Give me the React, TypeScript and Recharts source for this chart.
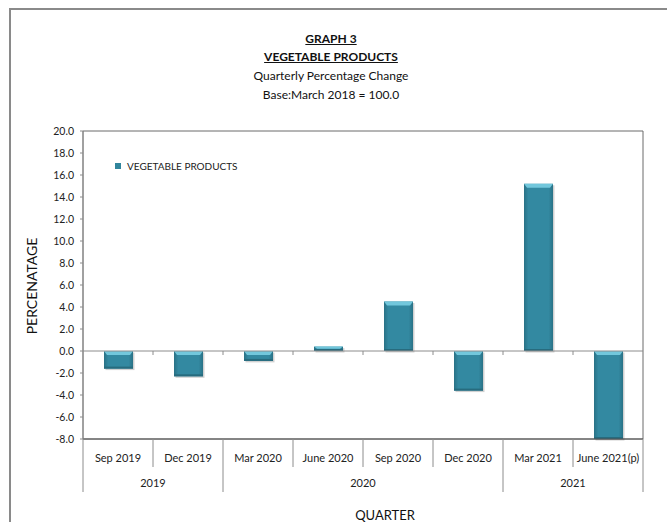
import React from "react";
import {
  BarChart,
  Bar,
  XAxis,
  YAxis,
  ReferenceLine,
  ReferenceArea,
  Legend,
} from "recharts";

// quarter labels, year groups and the quarterly % change
const quarters = [
  "Sep 2019",
  "Dec 2019",
  "Mar 2020",
  "June 2020",
  "Sep 2020",
  "Dec 2020",
  "Mar 2021",
  "June 2021(p)",
];
const years = ["2019", "2019", "2020", "2020", "2020", "2020", "2021", "2021"];
const changes = [-1.6, -2.3, -0.9, 0.4, 4.5, -3.6, 15.2, -8.0];
const yTicks = [20, 18, 16, 14, 12, 10, 8, 6, 4, 2, 0, -2, -4, -6, -8];

const data = quarters.map((q, i) => ({
  quarter: q,
  year: years[i],
  value: changes[i],
}));

const W = 667;
const H = 522;
const margin = { top: 131, right: 24, left: 43, bottom: 23 };
const Y_AXIS_W = 40;
const X_AXIS_H = 60;
const PLOT_W = W - margin.left - margin.right - Y_AXIS_W;
const PLOT_H = H - margin.top - margin.bottom - X_AXIS_H;
const Y_MIN = -8;
const Y_MAX = 20;
const FONT = "Lato, 'Open Sans', sans-serif";
const LINE = "#8c8c8c";

const QuarterTick = (props: any) => {
  const { x, y, index, payload } = props;
  const step = PLOT_W / data.length;
  const left = x - step / 2;
  const year = years[index];
  const groupStart = index === 0 || years[index - 1] !== year;
  const isLast = index === data.length - 1;
  const zeroY = y - (PLOT_H * (0 - Y_MIN)) / (Y_MAX - Y_MIN);

  let count = 0;
  if (groupStart) {
    let j = index;
    while (j < years.length && years[j] === year) {
      count++;
      j++;
    }
  }

  return (
    <g>
      <line
        x1={left}
        x2={left}
        y1={y}
        y2={groupStart ? y + 53 : y + 28}
        stroke={LINE}
      />
      {isLast && (
        <line x1={left + step} x2={left + step} y1={y} y2={y + 53} stroke={LINE} />
      )}
      {index > 0 && (
        <line x1={left} x2={left} y1={zeroY} y2={zeroY + 4} stroke={LINE} />
      )}
      <text
        x={x}
        y={y + 23}
        textAnchor="middle"
        fontSize={11}
        fontFamily={FONT}
        fill="#222"
      >
        {payload.value}
      </text>
      {groupStart && (
        <text
          x={left + (count * step) / 2}
          y={y + 48}
          textAnchor="middle"
          fontSize={11}
          fontFamily={FONT}
          fill="#222"
        >
          {year}
        </text>
      )}
    </g>
  );
};

const BevelBar = (props: any) => {
  const { x, y, width, height } = props;
  const top = Math.min(y, y + height);
  const h = Math.abs(height);
  if (!h) return null;
  const cap = Math.min(4, h / 2);
  return (
    <g>
      <rect x={x + 1.5} y={top + 1.5} width={width} height={h} fill="#000" opacity={0.18} />
      <rect x={x} y={top} width={width} height={h} fill="url(#barGrad)" />
      <polygon
        points={`${x},${top} ${x + width},${top} ${x + width - 3},${top + cap} ${x + 3},${top + cap}`}
        fill="#72c7dc"
      />
      <rect x={x} y={top + h - 2} width={width} height={2} fill="#276b7e" />
    </g>
  );
};

const LegendBox = () => (
  <div
    style={{
      display: "flex",
      alignItems: "center",
      fontFamily: FONT,
      fontSize: 10,
      color: "#222",
      whiteSpace: "nowrap",
    }}
  >
    <span
      style={{
        width: 6,
        height: 6,
        background: "#31859c",
        marginRight: 6,
        display: "inline-block",
      }}
    />
    VEGETABLE PRODUCTS
  </div>
);

export default function App() {
  const titleStyle: React.CSSProperties = {
    position: "absolute",
    left: 0,
    width: 662,
    textAlign: "center",
    fontFamily: FONT,
    fontSize: 12,
    color: "#111",
    lineHeight: "14px",
  };

  return (
    <div
      style={{
        position: "fixed",
        left: 0,
        top: 0,
        width: W,
        height: H,
        background: "#fff",
        overflow: "hidden",
      }}
    >
      {/* sheet border, only top and left are visible */}
      <div
        style={{
          position: "absolute",
          left: 9,
          top: 8,
          width: 700,
          height: 600,
          borderTop: "2px solid #8a8a8a",
          borderLeft: "2px solid #8a8a8a",
        }}
      />
      <div style={{ ...titleStyle, top: 32, fontWeight: 700, textDecoration: "underline" }}>
        GRAPH 3
      </div>
      <div style={{ ...titleStyle, top: 50, fontWeight: 700, textDecoration: "underline" }}>
        VEGETABLE PRODUCTS
      </div>
      <div style={{ ...titleStyle, top: 69 }}>Quarterly Percentage Change</div>
      <div style={{ ...titleStyle, top: 88 }}>Base:March 2018 = 100.0</div>

      <div style={{ position: "absolute", left: 0, top: 0 }}>
        <BarChart width={W} height={H} data={data} margin={margin}>
          <defs>
            <linearGradient id="barGrad" x1="0" y1="0" x2="1" y2="0">
              <stop offset="0%" stopColor="#2a7286" />
              <stop offset="15%" stopColor="#3389a1" />
              <stop offset="85%" stopColor="#3389a1" />
              <stop offset="100%" stopColor="#2a7286" />
            </linearGradient>
          </defs>
          <ReferenceArea y1={Y_MIN} y2={Y_MAX} fill="none" stroke="#6a6a6a" ifOverflow="visible" />
          <XAxis
            dataKey="quarter"
            height={X_AXIS_H}
            interval={0}
            tickLine={false}
            tickSize={0}
            tickMargin={0}
            axisLine={{ stroke: "#555" }}
            tick={<QuarterTick />}
          />
          <YAxis
            width={Y_AXIS_W}
            domain={[Y_MIN, Y_MAX]}
            ticks={yTicks}
            interval={0}
            tickSize={3}
            tickMargin={6}
            tickFormatter={(v: number) => v.toFixed(1)}
            tick={{ fontSize: 10.5, fontFamily: FONT, fill: "#222" }}
            axisLine={{ stroke: LINE }}
            tickLine={{ stroke: LINE }}
          />
          <ReferenceLine y={0} stroke={LINE} />
          <Legend
            layout="vertical"
            align="center"
            verticalAlign="middle"
            wrapperStyle={{ top: 160, left: 115, width: 200 }}
            content={<LegendBox />}
          />
          <Bar
            dataKey="value"
            name="VEGETABLE PRODUCTS"
            barSize={29}
            shape={<BevelBar />}
            isAnimationActive={false}
          />
        </BarChart>
      </div>

      <div
        style={{
          position: "absolute",
          left: 31,
          top: 286,
          transform: "translate(-50%, -50%) rotate(-90deg)",
          fontFamily: FONT,
          fontSize: 14,
          color: "#111",
          whiteSpace: "nowrap",
        }}
      >
        PERCENATAGE
      </div>
      <div
        style={{
          position: "absolute",
          left: 385,
          top: 507,
          transform: "translateX(-50%)",
          fontFamily: FONT,
          fontSize: 13,
          color: "#111",
          whiteSpace: "nowrap",
        }}
      >
        QUARTER
      </div>
    </div>
  );
}
